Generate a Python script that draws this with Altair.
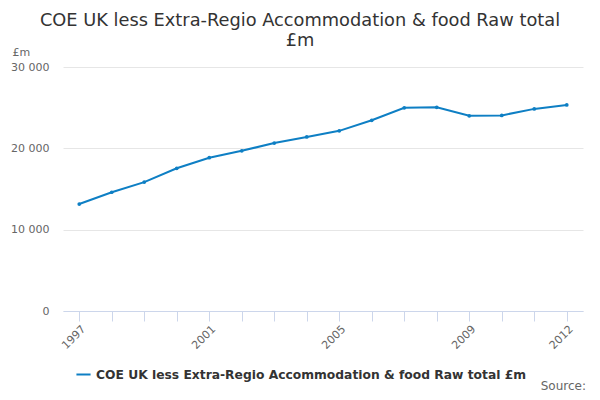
import altair as alt
import pandas as pd

years = [str(y) for y in range(1997, 2013)]
values = [13150, 14600, 15850, 17550, 18850, 19700, 20650, 21400, 22150, 23450,
          24980, 25050, 24000, 24050, 24850, 25330]
series_name = "COE UK less Extra-Regio Accommodation & food Raw total £m"
shown_labels = ["1997", "2001", "2005", "2009", "2012"]

df = pd.DataFrame({"year": years, "value": values, "series": series_name})

FONT = "DejaVu Sans"
COLOR = "#0e7fc4"

label_expr = "indexof(" + str(shown_labels).replace("'", '"') + ", datum.value) >= 0 ? datum.value : ''"

base = alt.Chart(df).encode(
    x=alt.X("year:O", scale=alt.Scale(type="point", padding=0.5),
            axis=alt.Axis(title=None, labelAngle=-45, labelAlign="right", labelBaseline="top",
                          labelExpr=label_expr, labelFont=FONT, labelFontSize=11,
                          labelColor="#666666", domainColor="#ccd6eb", tickColor="#ccd6eb",
                          tickSize=10, grid=False, labelPadding=2, labelOverlap=False,
                          labelBound=False, labelFlush=False)),
    y=alt.Y("value:Q", scale=alt.Scale(domain=[0, 30000], nice=False),
            axis=alt.Axis(values=[0, 10000, 20000, 30000], format=",d",
                          labelExpr="replace(datum.label, ',', ' ')",
                          title="£m", titleAngle=0, titleX=-51, titleY=-15,
                          titleAlign="left", titleBaseline="middle",
                          titleFont=FONT, titleFontSize=11, titleFontWeight="normal",
                          titleColor="#666666",
                          labelFont=FONT, labelFontSize=11, labelColor="#666666",
                          labelPadding=14, domain=False, ticks=False,
                          gridColor="#e6e6e6")),
    color=alt.Color("series:N", scale=alt.Scale(range=[COLOR]),
                    legend=alt.Legend(title=None, orient="none", legendX=12, legendY=299,
                                      symbolType="stroke", symbolStrokeWidth=2, symbolSize=200,
                                      labelFont=FONT, labelFontSize=12.3, labelFontWeight="bold",
                                      labelColor="#333333", labelLimit=600)),
)

line = base.mark_line(strokeWidth=2)
points = base.mark_point(filled=True, size=14, opacity=1)

source = alt.Chart(pd.DataFrame({"t": ["Source:"]})).mark_text(
    align="right", baseline="middle", font=FONT, fontSize=12, color="#666666"
).encode(text="t:N", x=alt.value(523), y=alt.value(319))

chart = alt.layer(line, points, source).properties(
    width=520, height=244,
    title=alt.TitleParams(["COE UK less Extra-Regio Accommodation & food Raw total", "£m"],
                          font=FONT, fontSize=17.8, fontWeight="normal", color="#333333",
                          anchor="middle", frame="group", offset=-4, lineHeight=20, dx=-23),
    autosize=alt.AutoSizeParams(type="none"),
    padding={"left": 55, "top": 59, "right": 9, "bottom": 81},
).configure_view(stroke=None)

chart.save("out.html", embed_options={"renderer": "svg", "actions": False})
